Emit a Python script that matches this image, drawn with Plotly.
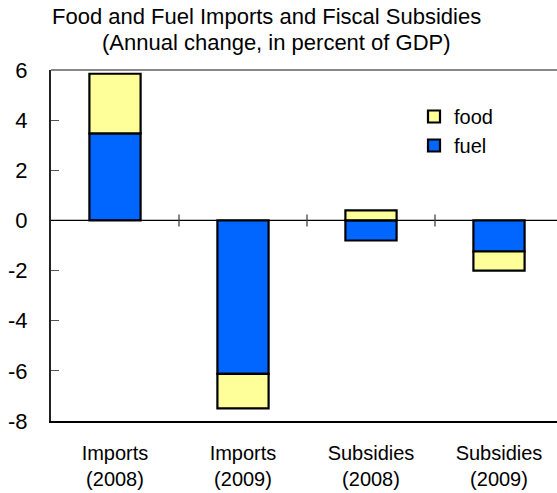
import plotly.graph_objects as go

# Categories and series (annual change, percent of GDP)
categories = ["Imports<br>(2008)", "Imports<br>(2009)", "Subsidies<br>(2008)", "Subsidies<br>(2009)"]
fuel = [3.47, -6.12, -0.80, -1.24]
food = [2.38, -1.38, 0.40, -0.76]

y_tick_vals = [6, 4, 2, 0, -2, -4, -6, -8]
y_tick_text = ["6", "4", "2", "0", "-2", "-4", "-6", "-8"]

FONT = "Liberation Sans, Arial, sans-serif"
positions = list(range(len(categories)))

fig = go.Figure()
fig.add_trace(go.Bar(
    x=positions, y=fuel, name="fuel", width=0.4,
    marker=dict(color="#0066FF", line=dict(color="black", width=2.2)),
))
fig.add_trace(go.Bar(
    x=positions, y=food, name="food", width=0.4,
    marker=dict(color="#FFFF99", line=dict(color="black", width=2.2)),
))

# zero line with category separators
fig.add_shape(type="line", xref="paper", yref="y", x0=0, x1=1, y0=0, y1=0,
              line=dict(color="black", width=1.3))
for b in [0.5, 1.5, 2.5]:
    fig.add_shape(type="line", xref="x", yref="y", ysizemode="pixel", yanchor=0,
                  x0=b, x1=b, y0=-6, y1=6, line=dict(color="#444", width=1.3))
# top frame line
fig.add_shape(type="line", xref="paper", yref="paper", x0=0, x1=1, y0=1, y1=1,
              line=dict(color="#888888", width=2))

fig.add_annotation(text="Food and Fuel Imports and Fiscal Subsidies", xref="paper", yref="paper",
                   x=(266 - 51) / 506, y=(421 - 17) / 351, xanchor="center", yanchor="middle",
                   showarrow=False, font=dict(size=22, color="black", family=FONT))
fig.add_annotation(text="(Annual change, in percent of GDP)", xref="paper", yref="paper",
                   x=(276 - 51) / 506, y=(421 - 42) / 351, xanchor="center", yanchor="middle",
                   showarrow=False, font=dict(size=22, color="black", family=FONT))

fig.update_layout(
    width=557, height=493,
    margin=dict(l=51, r=0, t=70, b=72),
    paper_bgcolor="white", plot_bgcolor="white",
    barmode="relative",
    showlegend=True,
    font=dict(family=FONT, size=20, color="black"),
    legend=dict(x=(414 - 51) / 506, y=(421 - 97) / 351, xanchor="left", yanchor="top",
                traceorder="reversed", bgcolor="rgba(0,0,0,0)",
                font=dict(size=20, family=FONT)),
    xaxis=dict(
        range=[-0.5, 3.5 - 6 / 128], tickvals=positions, ticktext=categories,
        showline=True, linecolor="black", linewidth=2, ticks="", showgrid=False,
        zeroline=False, tickfont=dict(size=20, family=FONT), ticklabelstandoff=13,
    ),
    yaxis=dict(
        range=[-8, 6], tickvals=y_tick_vals, ticktext=y_tick_text,
        showline=True, linecolor="#222", linewidth=2, ticks="inside", ticklen=8,
        tickcolor="#555", tickwidth=1.3, showgrid=False, zeroline=False,
        ticklabelstandoff=17, tickfont=dict(size=22, family=FONT),
    ),
)

fig.write_html("out.html")
